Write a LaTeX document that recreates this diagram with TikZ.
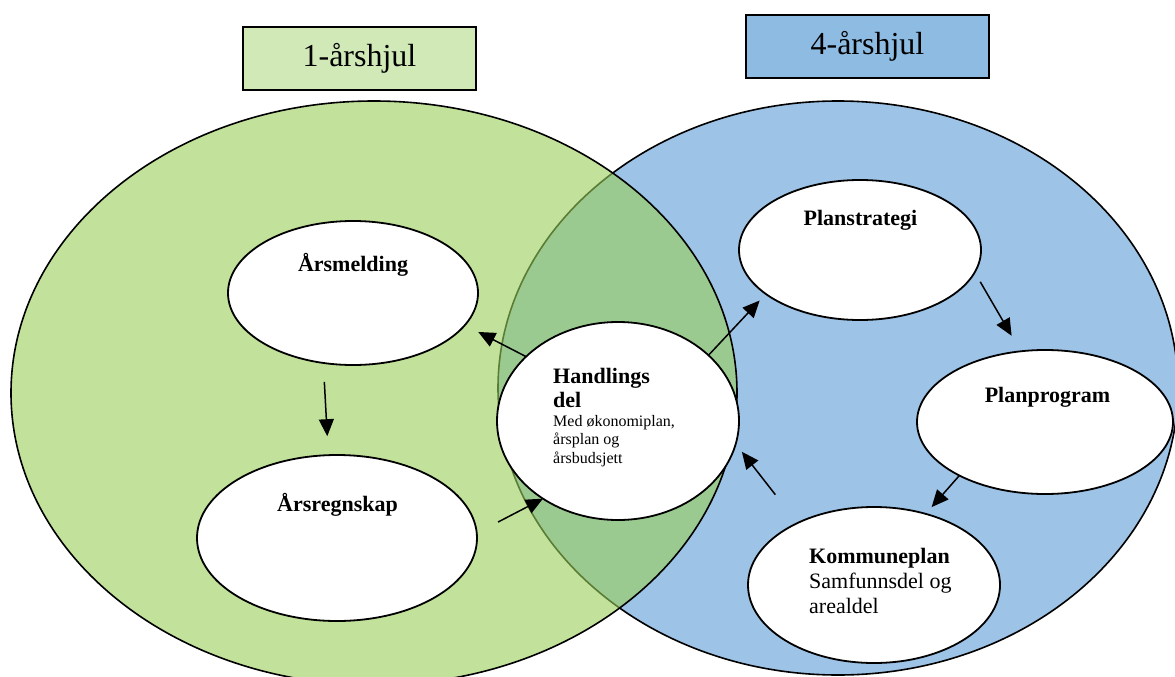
\documentclass[tikz,border=0pt]{standalone}
\usepackage{fontspec}
\setmainfont{Liberation Serif}
\usetikzlibrary{shapes.geometric,arrows.meta}
\definecolor{wheelgreen}{RGB}{153,207,88}
\definecolor{wheelblue}{RGB}{157,195,230}
\definecolor{tabgreen}{RGB}{208,233,183}
\definecolor{tabblue}{RGB}{141,187,226}

\begin{document}
\begin{tikzpicture}[x=1pt,y=-1pt]
  \useasboundingbox (0,0) rectangle (1175,677);
  \clip (0,0) rectangle (1175,677);

  % the two wheels
  \draw[line width=1.6pt, fill=wheelblue] (838,388) ellipse [x radius=340pt, y radius=287pt];
  \draw[line width=1.6pt, fill=wheelgreen, fill opacity=0.6] (374,393) ellipse [x radius=363pt, y radius=292pt];

  \begin{scope}[every node/.style={draw,line width=2pt,minimum height=63pt,inner sep=0pt,font=\fontsize{32}{36}\selectfont}]
    \node[fill=tabgreen, minimum width=233pt] (year1) at (359.5,58.5) {1-årshjul};
    \node[fill=tabblue,  minimum width=243pt] (year4) at (867.5,46.5) {4-årshjul};
  \end{scope}

  \begin{scope}[every node/.style={ellipse,draw,line width=1.8pt,fill=white,inner sep=0pt,outer sep=0pt}]
    \node[minimum width=250pt, minimum height=144pt] (melding)  at (353,293)  {};
    \node[minimum width=280pt, minimum height=166pt] (regnskap) at (337,538)  {};
    \node[minimum width=242pt, minimum height=198pt] (handling) at (618,421)  {};
    \node[minimum width=242pt, minimum height=140pt] (strategi) at (860,250)  {};
    \node[minimum width=256pt, minimum height=144pt] (program)  at (1045,422) {};
    \node[minimum width=252pt, minimum height=156pt] (kplan)    at (874,585)  {};
  \end{scope}

  \begin{scope}[every node/.style={inner sep=0pt,font=\fontsize{22}{25}\selectfont}]
    \node[anchor=base,font=\fontsize{22}{25}\selectfont\bfseries] (meldingtxt)  at (353,271)    {Årsmelding};
    \node[anchor=base,font=\fontsize{22}{25}\selectfont\bfseries] (regnskaptxt) at (337.5,511)  {Årsregnskap};
    \node[anchor=base,font=\fontsize{22}{25}\selectfont\bfseries] (strategitxt) at (860.5,225.5) {Planstrategi};
    \node[anchor=base,font=\fontsize{22}{25}\selectfont\bfseries] (programtxt)  at (1047.5,402.5) {Planprogram};
    \node[anchor=north west,align=left,font=\fontsize{22}{24.5}\selectfont\bfseries] (handlinghead) at (553,368) {Handlings\\del};
    \node[anchor=north west,align=left,font=\fontsize{16}{18.5}\selectfont] (handlingbody) at (553,415) {Med økonomiplan,\\årsplan og\\årsbudsjett};
    \node[anchor=north west,align=left] (kplantxt) at (809,548) {\textbf{Kommuneplan}\\Samfunnsdel og\\arealdel};
  \end{scope}

  \begin{scope}[every edge/.style={draw,line width=1.5pt,-{Triangle[length=17pt,width=15pt]}}]
    \path (melding.247)  edge[shorten <=19pt, shorten >=19pt] (regnskap.96);
    \path (handling.145) edge[shorten >=15pt] (melding.344);
    \path (regnskap.2)   edge[shorten <=24pt] (handling.226);
    \path (handling.36)  edge[shorten >=9pt] (strategi.205);
    \path (strategi.349) edge[shorten <=11pt, shorten >=18pt] (program.109);
    \path (program.212)  edge[shorten >=9pt] (kplan.54);
    \path (kplan.141)    edge[shorten <=36pt, shorten >=10pt] (handling.349);
  \end{scope}

\end{tikzpicture}
\end{document}
